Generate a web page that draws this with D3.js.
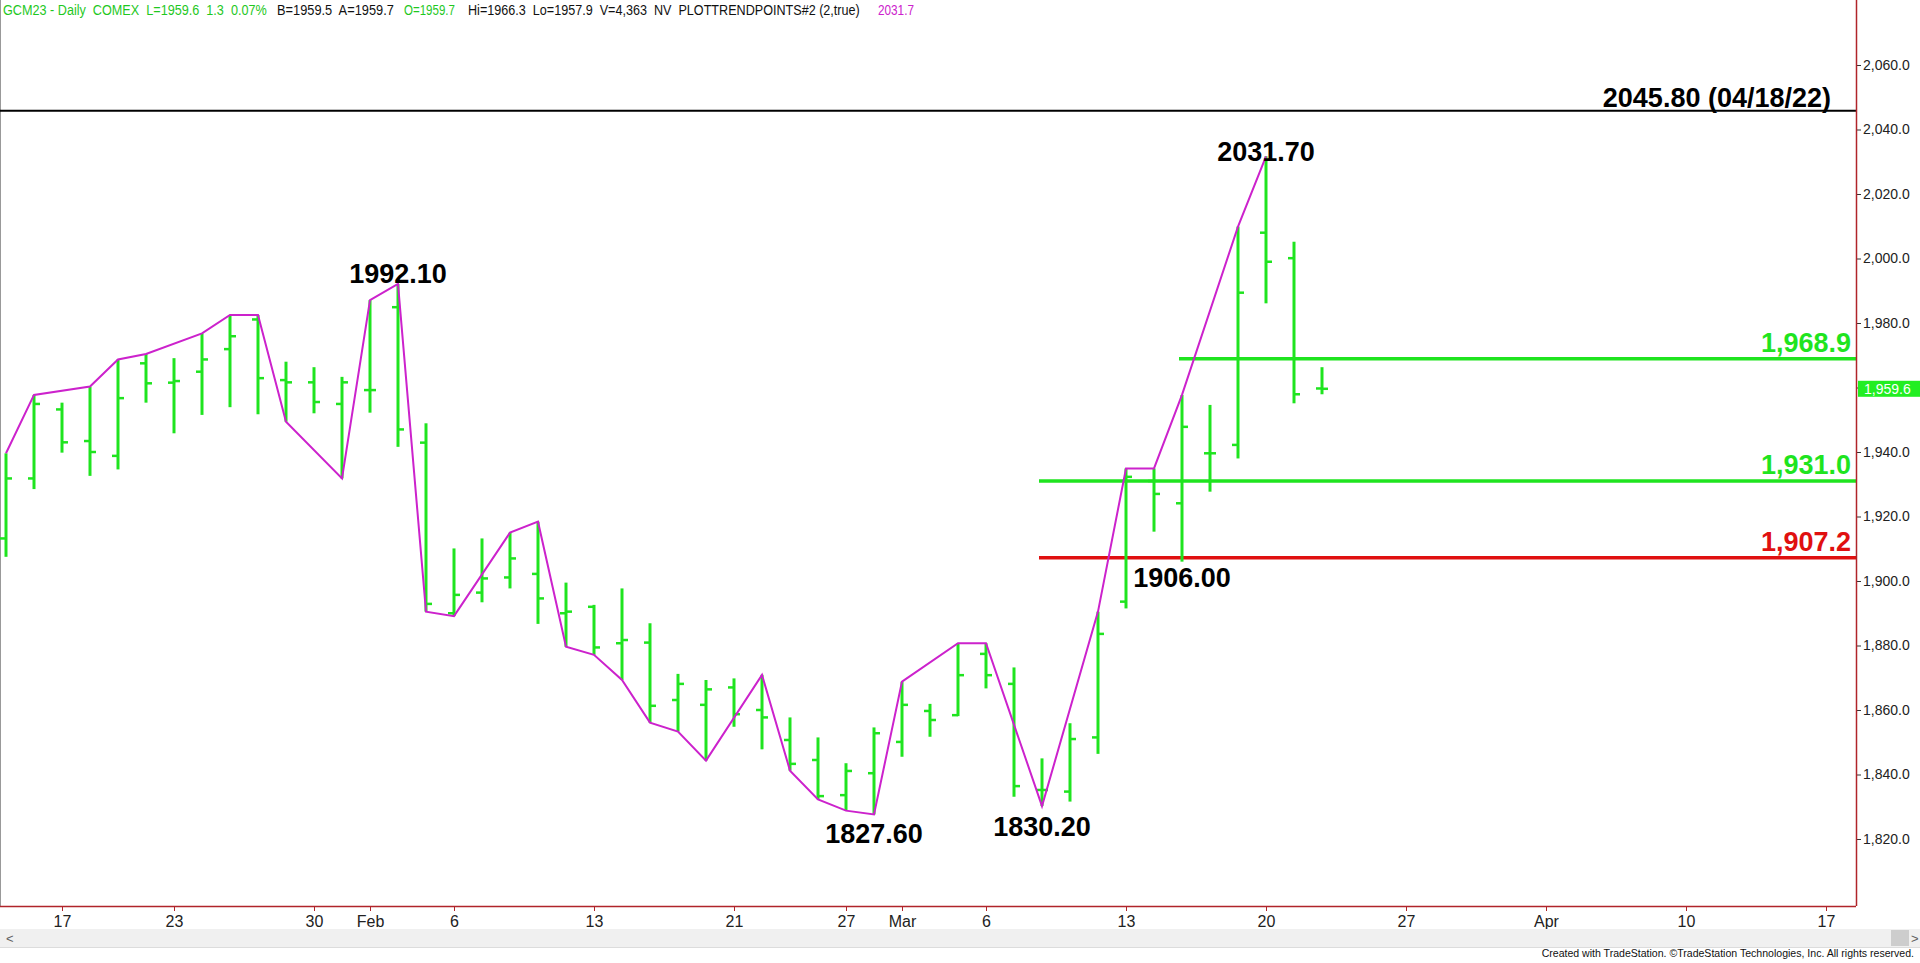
<!DOCTYPE html>
<html><head><meta charset="utf-8">
<script src="https://cdn.jsdelivr.net/npm/d3@7"></script>
<style>
html,body{margin:0;padding:0;background:#fff;overflow:hidden}
svg{display:block;font-family:"Liberation Sans",Arial,sans-serif}
</style></head><body>
<svg id="c" width="1920" height="963"></svg>
<script>
// ---- data ----
const barOpen  = [1913.2,1931.8,1953.2,1943.4,1938.8,1967.5,1961.5,1964.9,1971.9,1981.1,1962.3,1961.6,1954.9,1959.2,1984.9,1942.9,1890.0,1896.4,1901.1,1902.2,1890.0,1892.0,1880.7,1880.9,1863.1,1861.6,1867.0,1860.0,1850.7,1844.5,1833.6,1840.4,1850.1,1859.7,1858.4,1877.4,1868.1,1835.2,1834.7,1851.5,1893.6,1931.0,1924.1,1939.6,1942.2,2008.0,2000.1,1959.7];
const barHigh  = [1939.6,1957.7,1955.3,1960.3,1968.7,1970.4,1969.1,1976.8,1982.5,1982.5,1968.0,1966.3,1963.3,1987.1,1992.1,1948.9,1910.1,1913.2,1915.0,1918.4,1899.5,1892.6,1897.7,1886.9,1871.2,1869.3,1869.8,1870.9,1857.7,1851.5,1843.5,1854.6,1868.8,1861.9,1880.7,1880.7,1873.2,1845.0,1855.9,1890.5,1934.9,1934.9,1957.7,1954.6,2009.9,2031.7,2005.2,1966.3];
const barLow   = [1907.5,1928.5,1939.8,1932.6,1934.6,1955.3,1945.8,1951.5,1953.9,1951.7,1949.4,1952.0,1931.8,1952.2,1941.6,1890.5,1889.1,1893.4,1897.7,1886.7,1879.6,1877.1,1869.3,1856.1,1853.3,1844.3,1854.8,1847.8,1841.2,1832.3,1828.8,1827.6,1845.5,1851.7,1858.1,1866.7,1833.1,1830.2,1831.6,1846.4,1891.5,1915.3,1906.0,1927.7,1938.0,1986.1,1955.1,1957.9];
const barClose = [1931.8,1954.9,1943.0,1940.0,1956.7,1961.3,1962.0,1968.7,1975.9,1962.9,1961.6,1955.5,1961.6,1959.2,1947.0,1892.9,1895.7,1900.8,1907.0,1894.6,1890.5,1879.4,1881.7,1861.3,1868.1,1866.4,1858.7,1857.7,1843.3,1833.3,1841.1,1852.8,1861.6,1856.9,1870.8,1870.8,1836.4,1835.2,1851.0,1883.6,1932.3,1927.0,1947.8,1939.6,1989.4,1999.0,1957.9,1959.6];

const swingIdx   = [0,1,3,4,5,7,8,9,10,12,13,14,15,16,18,19,20,21,22,23,24,25,27,28,29,30,31,32,34,35,37,39,40,41,42,44,45];
const swingPrice = [1939.6,1957.7,1960.3,1968.7,1970.4,1976.8,1982.5,1982.5,1949.4,1931.8,1987.1,1992.1,1890.5,1889.1,1915.0,1918.4,1879.6,1877.1,1869.3,1856.1,1853.3,1844.3,1870.9,1841.2,1832.3,1828.8,1827.6,1868.8,1880.7,1880.7,1830.2,1890.5,1934.9,1934.9,1957.7,2009.9,2031.7];

const pivotIdx    = [14,45,42,31,37];
const pivotPrice  = [1992.10,2031.70,1906.00,1827.60,1830.20];
const pivotLabel  = ["1992.10","2031.70","1906.00","1827.60","1830.20"];
const pivotAbove  = [true,true,false,false,false];

const levelPrice = [2045.8,1968.9,1931.0,1907.2];
const levelLabel = ["2045.80 (04/18/22)","1,968.9","1,931.0","1,907.2"];
const levelStart = [null,42,37,37];

const xTickIdx   = [2,6,11,13,16,21,26,30,32,35,40,45,50,55,60,65];
const xTickLabel = ["17","23","30","Feb","6","13","21","27","Mar","6","13","20","27","Apr","10","17"];
const yTicks     = [1820,1840,1860,1880,1900,1920,1940,1960,1980,2000,2020,2040,2060];
const lastPrice  = 1959.6;

// ---- layout ----
const svg = d3.select("#c");
const plotR = 1856, axisY = 906;
const GREEN = "#1fe41f", RED = "#e01010", MAG = "#cc22cc", AXIS = "#b0242a";
const x = d3.scaleLinear().domain([0,47]).range([6,1322]);
const y = d3.scaleLinear().domain([1820,2060]).range([839,65]);

svg.append("defs").append("clipPath").attr("id","pc")
  .append("rect").attr("x",0).attr("y",20).attr("width",plotR).attr("height",axisY-20);

// header (each segment squeezed horizontally to its width in the reference)
const hdr = [
  {t:"GCM23 - Daily  COMEX  L=1959.6  1.3  0.07%", x:3, w:264, c:"#1fc81f"},
  {t:"B=1959.5  A=1959.7", x:277, w:117, c:"#111"},
  {t:"O=1959.7", x:404, w:51, c:"#1fc81f"},
  {t:"Hi=1966.3  Lo=1957.9  V=4,363  NV  PLOTTRENDPOINTS#2 (2,true)", x:468, w:392, c:"#111"},
  {t:"2031.7", x:878, w:36, c:"#cc22cc"}
];
svg.selectAll("text.hdr").data(hdr).join("text").attr("class","hdr")
  .attr("x",0).attr("y",0).attr("font-size",14).attr("fill",d=>d.c)
  .style("white-space","pre").text(d=>d.t)
  .each(function(d){
    const n = this.getComputedTextLength();
    d3.select(this).attr("transform",`translate(${d.x},15) scale(${d.w/n},1)`);
  });

// left border
svg.append("line").attr("x1",0.5).attr("x2",0.5).attr("y1",0).attr("y2",axisY).attr("stroke","#999");

const g = svg.append("g").attr("clip-path","url(#pc)");

// levels
levelPrice.forEach((p,i)=>{
  const col = i===0 ? "#000" : (i===3 ? RED : GREEN);
  const x1 = levelStart[i]===null ? 0 : x(levelStart[i]) - 3;
  g.append("line").attr("x1",x1).attr("x2",plotR).attr("y1",y(p)).attr("y2",y(p))
    .attr("stroke",col).attr("stroke-width", i===0 ? 2 : 3.5);
});

// bars
const bars = d3.range(barOpen.length);
const bg = g.append("g").attr("stroke",GREEN).attr("stroke-width",3);
bg.selectAll("line.hl").data(bars).join("line").attr("class","hl")
  .attr("x1",i=>x(i)).attr("x2",i=>x(i)).attr("y1",i=>y(barHigh[i])).attr("y2",i=>y(barLow[i]));
bg.selectAll("line.op").data(bars).join("line").attr("class","op").attr("stroke-width",2.5)
  .attr("x1",i=>x(i)-6).attr("x2",i=>x(i)).attr("y1",i=>y(barOpen[i])).attr("y2",i=>y(barOpen[i]));
bg.selectAll("line.cl").data(bars).join("line").attr("class","cl").attr("stroke-width",2.5)
  .attr("x1",i=>x(i)).attr("x2",i=>x(i)+6).attr("y1",i=>y(barClose[i])).attr("y2",i=>y(barClose[i]));

// swing line
g.append("path").datum(swingIdx.map((d,i)=>[d,swingPrice[i]]))
  .attr("fill","none").attr("stroke",MAG).attr("stroke-width",2)
  .attr("d", d3.line().x(d=>x(d[0])).y(d=>y(d[1])));

// level labels
levelPrice.forEach((p,i)=>{
  const col = i===0 ? "#000" : (i===3 ? RED : GREEN);
  svg.append("text").attr("x", i===0 ? 1831 : 1851).attr("y", y(p) - (i===0 ? 3.5 : 7))
    .attr("text-anchor","end").attr("font-size",27).attr("font-weight","bold")
    .attr("fill",col).text(levelLabel[i]);
});

// pivot labels
pivotIdx.forEach((d,i)=>{
  const off = pivotAbove[i] ? (i===0 ? -1 : 5) : (i===2 ? 25 : (i===3 ? 28.5 : 30));
  svg.append("text").attr("x",x(d)).attr("y",y(pivotPrice[i]) + off)
    .attr("text-anchor","middle").attr("font-size",27).attr("font-weight","bold")
    .attr("fill","#000").text(pivotLabel[i]);
});

// x axis
const xa = svg.append("g").attr("transform",`translate(0,${axisY})`)
  .call(d3.axisBottom(x).tickValues(xTickIdx).tickSize(5).tickPadding(5)
    .tickFormat((d,i)=>xTickLabel[i]));
xa.select(".domain").remove();
xa.selectAll(".tick line").attr("stroke",AXIS);
xa.selectAll(".tick text").attr("font-size",16).attr("fill","#222")
  .attr("font-family","'Liberation Sans',Arial,sans-serif");
svg.append("line").attr("x1",0).attr("x2",plotR).attr("y1",axisY+0.5).attr("y2",axisY+0.5).attr("stroke",AXIS).attr("stroke-width",1.5);

// y axis
const ya = svg.append("g").attr("transform",`translate(${plotR},0)`)
  .call(d3.axisRight(y).tickValues(yTicks).tickSize(5).tickPadding(2).tickFormat(d3.format(",.1f")));
ya.select(".domain").remove();
ya.selectAll(".tick line").attr("stroke","#333");
ya.selectAll(".tick text").attr("font-size",14).attr("fill","#222")
  .attr("font-family","'Liberation Sans',Arial,sans-serif");
svg.append("line").attr("x1",plotR+0.5).attr("x2",plotR+0.5).attr("y1",0).attr("y2",axisY).attr("stroke",AXIS).attr("stroke-width",1.5);

// last price box
svg.append("rect").attr("x",plotR+2).attr("y",y(lastPrice)-8).attr("width",1920-plotR-2).attr("height",16).attr("fill","#22ee22");
svg.append("text").attr("x",plotR+8).attr("y",y(lastPrice)+5).attr("font-size",14).attr("fill","#fff").text(d3.format(",.1f")(lastPrice));

// scrollbar & footer
svg.append("rect").attr("x",0).attr("y",929).attr("width",1920).attr("height",18).attr("fill","#f0f0f0");
svg.append("line").attr("x1",0).attr("x2",1920).attr("y1",947.5).attr("y2",947.5).attr("stroke","#dcdcdc");
svg.append("rect").attr("x",1891).attr("y",930).attr("width",18).attr("height",16).attr("fill","#cdcdcd");
svg.append("text").attr("x",6).attr("y",943).attr("font-size",13).attr("fill","#606060").text("<");
svg.append("text").attr("x",1911).attr("y",943).attr("font-size",13).attr("fill","#606060").text(">");
svg.append("text").attr("transform","translate(1914,957) scale(0.96,1)").attr("text-anchor","end")
  .attr("font-size",11).attr("fill","#111")
  .text("Created with TradeStation. \u00A9TradeStation Technologies, Inc. All rights reserved.");
</script>
</body></html>
